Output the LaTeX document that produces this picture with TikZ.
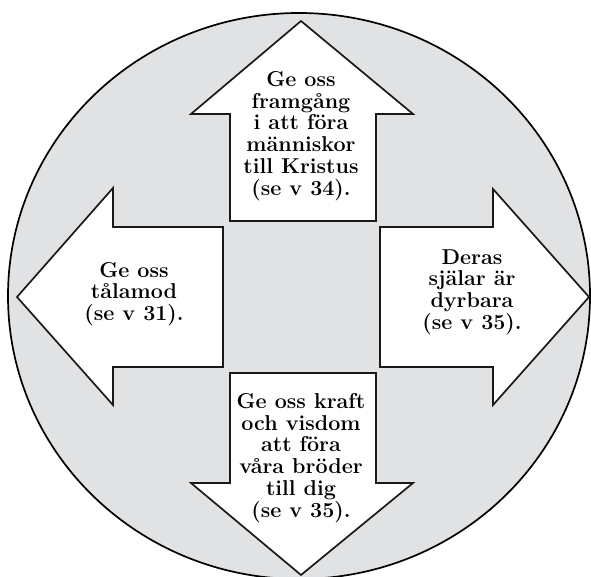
\documentclass[tikz,border=0pt]{standalone}
\usepackage{tikz}
\usetikzlibrary{positioning,calc}
\definecolor{circlegray}{RGB}{225,226,228}

\begin{document}
\begin{tikzpicture}[x=1pt,y=-1pt,
  arrowshape/.style={draw=black!90,line width=1.7pt,fill=white,line join=miter},
  arrowtext/.style={align=center,font=\fontsize{21.5}{21.7}\selectfont\bfseries,inner sep=0pt}]
\useasboundingbox (0,0) rectangle (591,577);

% Gray disc behind everything
\draw[line width=1.7pt,fill=circlegray] (299,296) ellipse [x radius=291pt,y radius=283pt];

% Up arrow
\draw[arrowshape] (301,21) -- (413,114) -- (376,114) -- (376,221) -- (230,221) -- (230,114) -- (191,114) -- cycle;
% Down arrow
\draw[arrowshape] (301,575) -- (413,483) -- (376,483) -- (376,373) -- (230,373) -- (230,483) -- (191,483) -- cycle;
% Left arrow
\draw[arrowshape] (17,297) -- (113,188) -- (113,227) -- (223,227) -- (223,367) -- (113,367) -- (113,405) -- cycle;
% Right arrow
\draw[arrowshape] (589,297) -- (493,189) -- (493,227) -- (380,227) -- (380,367) -- (493,367) -- (493,405) -- cycle;

% Texts
\node[arrowtext] (up) at (301,136) {Ge oss\\framgång\\i att föra\\människor\\till Kristus\\(se v 34).};
\node[arrowtext] (left) at (134,294) {Ge oss\\tålamod\\(se v 31).};
\node[arrowtext] (right) at (472,292) {Deras\\själar är\\dyrbara\\(se v 35).};
\node[arrowtext] (down) at (301,458) {Ge oss kraft\\och visdom\\att föra\\våra bröder\\till dig\\(se v 35).};
\end{tikzpicture}
\end{document}
